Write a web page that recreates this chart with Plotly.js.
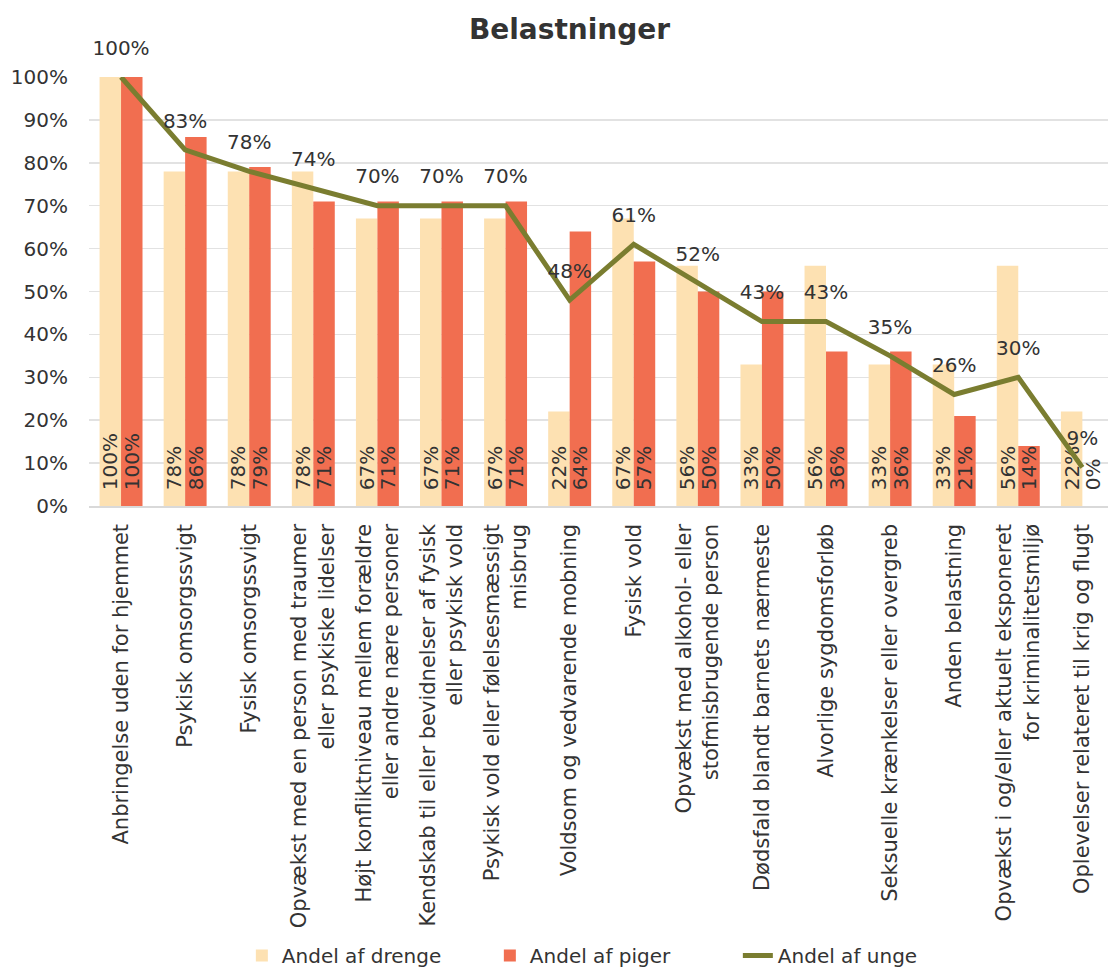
<!DOCTYPE html>
<html>
<head>
<meta charset="utf-8">
<script src="https://cdn.plot.ly/plotly-3.0.1.min.js"></script>
<style>html,body{margin:0;padding:0;background:#fff;overflow:hidden;}#chart{width:1108px;height:976px;}</style>
</head>
<body>
<div id="chart"></div>
<script>
const categories = [
  "Anbringelse uden for hjemmet",
  "Psykisk omsorgssvigt",
  "Fysisk omsorgssvigt",
  "Opvækst med en person med traumer<br>eller psykiske lidelser",
  "Højt konfliktniveau mellem forældre<br>eller andre nære personer",
  "Kendskab til eller bevidnelser af fysisk<br>eller psykisk vold",
  "Psykisk vold eller følelsesmæssigt<br>misbrug",
  "Voldsom og vedvarende mobning",
  "Fysisk vold",
  "Opvækst med alkohol- eller<br>stofmisbrugende person",
  "Dødsfald blandt barnets nærmeste",
  "Alvorlige sygdomsforløb",
  "Seksuelle krænkelser eller overgreb",
  "Anden belastning",
  "Opvækst i og/eller aktuelt eksponeret<br>for kriminalitetsmiljø",
  "Oplevelser relateret til krig og flugt"
];
const drenge = [100, 78, 78, 78, 67, 67, 67, 22, 67, 56, 33, 56, 33, 33, 56, 22];
const piger  = [100, 86, 79, 71, 71, 71, 71, 64, 57, 50, 50, 36, 36, 21, 14, 0];
const unge   = [100, 83, 78, 74, 70, 70, 70, 48, 61, 52, 43, 43, 35, 26, 30, 9];
const yTicks = [0, 10, 20, 30, 40, 50, 60, 70, 80, 90, 100];

const FONT = "'DejaVu Sans', 'Noto Sans', sans-serif";
const FS = 20;
const TXT = "#333333";
const pct = a => a.map(v => v + "%");
const PAD = "\u00a0\u00a0";
const padPct = a => a.map(v => PAD + v + "%");

const traces = [
  {
    type: "bar", name: "Andel af drenge", x: categories, y: drenge,
    marker: {color: "#FDE1B2"},
    text: padPct(drenge), textposition: "inside", insidetextanchor: "start",
    textangle: -90, constraintext: "none",
    textfont: {family: FONT, size: FS, color: TXT},
    cliponaxis: false
  },
  {
    type: "bar", name: "Andel af piger", x: categories, y: piger,
    marker: {color: "#F16E50"},
    text: padPct(piger), textposition: piger.map(v => v === 0 ? "outside" : "inside"),
    insidetextanchor: "start",
    textangle: -90, constraintext: "none",
    textfont: {family: FONT, size: FS, color: TXT},
    cliponaxis: false
  },
  {
    type: "scatter", mode: "lines+markers+text", name: "Andel af unge",
    x: categories, y: unge,
    line: {color: "#7A7D30", width: 5},
    marker: {size: 26, color: "rgba(0,0,0,0)"},
    text: pct(unge), textposition: "top center",
    textfont: {family: FONT, size: FS, color: TXT},
    cliponaxis: false
  }
];

const layout = {
  width: 1108, height: 976,
  margin: {l: 89, r: 0, t: 77, b: 470},
  paper_bgcolor: "#fff", plot_bgcolor: "#fff",
  font: {family: FONT, size: FS, color: TXT},
  title: {text: "<b>Belastninger</b>", x: 0.514, xanchor: "center", y: 0.97, yanchor: "middle",
          font: {family: FONT, size: 28, color: TXT}},
  barmode: "group", bargap: 0.33, bargroupgap: 0,
  showlegend: true,
  legend: {orientation: "h", x: 0.15, xanchor: "left", y: -1.093, yanchor: "bottom",
           entrywidth: 203, entrywidthmode: "pixels",
           font: {family: FONT, size: FS, color: TXT}, traceorder: "normal"},
  xaxis: {
    type: "category", range: [-0.5, 15.4], tickangle: -90, showgrid: false,
    showline: true, linecolor: "#D9D9D9", linewidth: 1.5,
    ticks: "", ticklabelstandoff: 8,
    tickfont: {family: FONT, size: 21, color: TXT},
    automargin: false, fixedrange: true
  },
  yaxis: {
    range: [0, 100], tickvals: yTicks, ticktext: pct(yTicks),
    showgrid: true, gridcolor: "#E2E2E2", gridwidth: 1.5,
    zeroline: false, showline: false, ticks: "",
    ticklabelstandoff: 20,
    tickfont: {family: FONT, size: FS, color: TXT},
    automargin: false, fixedrange: true
  }
};

Plotly.newPlot("chart", traces, layout, {displayModeBar: false, staticPlot: true});
</script>
</body>
</html>
